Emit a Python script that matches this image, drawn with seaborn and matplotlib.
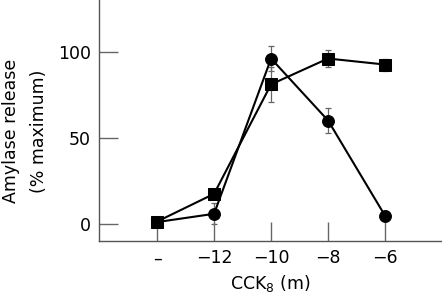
import matplotlib
matplotlib.use("Agg")
import matplotlib.pyplot as plt
import seaborn as sns
import pandas as pd
import numpy as np

categories = ["\u2013", "\u221212", "\u221210", "\u22128", "\u22126"]
square_vals = [1.3, 17.4, 81, 96, 92.5]
square_err = [2, 3, 10, 5, 3.5]
circle_vals = [1, 5.8, 96, 60, 4.7]
circle_err = [1, 6, 7, 7.5, 3]

sns.set_theme(style="ticks")
plt.rcParams['font.family'] = ['DejaVu Sans']
plt.rcParams['text.color'] = 'black'
plt.rcParams['axes.labelcolor'] = 'black'

fig = plt.figure(figsize=(4.42, 2.95), dpi=100)
ax = fig.add_axes([99/442, 54/295, 1 - 99/442, 241/295])

pos = np.arange(len(categories))
df = pd.DataFrame({
    "x": np.concatenate([pos, pos]),
    "y": square_vals + circle_vals,
    "s": ["sq"] * 5 + ["ci"] * 5,
})

for vals, err in [(square_vals, square_err), (circle_vals, circle_err)]:
    ax.errorbar(pos, vals, yerr=err, fmt="none", ecolor="#666666",
                elinewidth=0.9, capsize=2.5, capthick=0.9, zorder=1)

sns.lineplot(data=df, x="x", y="y", style="s", markers={"sq": "s", "ci": "o"},
             dashes=False, color="black", linewidth=1.5, markersize=8.5,
             markeredgecolor="black", legend=False, ax=ax, zorder=3)

ax.set_xlim(-1.02, 5.0)
ax.set_ylim(-10, 130)
ax.set_xticks(pos)
ax.set_xticklabels(categories)
ax.set_yticks([0, 50, 100])
ax.tick_params(direction="in", length=14, width=1, color="#666666",
               labelsize=12.5, pad=6, labelcolor="black")
for s in ["left", "bottom"]:
    ax.spines[s].set_color("#555555")
    ax.spines[s].set_linewidth(1)
sns.despine(ax=ax)
ax.set_xlabel("CCK$_8$ (m)", fontsize=12.5, labelpad=4, color="black")
ax.set_ylabel("Amylase release\n(% maximum)", fontsize=12.5, color="black",
              linespacing=1.7)
ax.yaxis.label.set_va("center")
ax.yaxis.label.set_ha("center")
ax.yaxis.set_label_coords(-0.215, 0.456)

fig.savefig("out.png", dpi=100)
